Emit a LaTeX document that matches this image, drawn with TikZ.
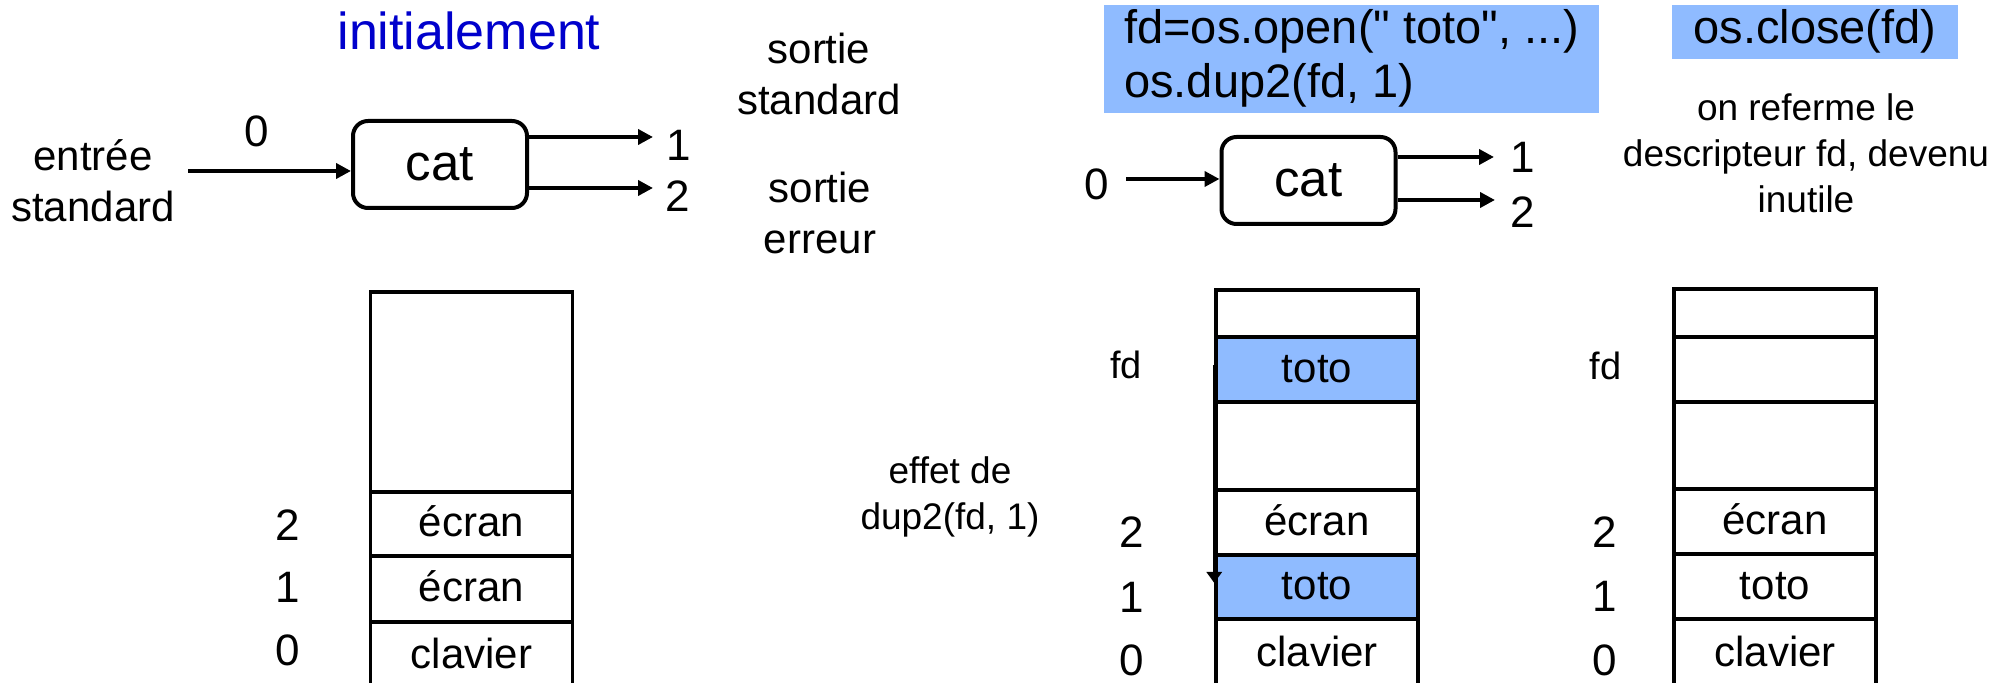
\documentclass[tikz,border=0pt]{standalone}
\usepackage{fontspec}
\setmainfont{Liberation Sans}[Ligatures=TeXOff]
\usetikzlibrary{arrows.meta,calc}
\definecolor{codeblue}{RGB}{143,187,255}
\definecolor{titleblue}{RGB}{0,0,204}
\begin{document}
\begin{tikzpicture}[x=0.5pt,y=-0.5pt,
  lbl/.style={font=\fontsize{21}{25.5}\selectfont, align=center, inner sep=0pt},
  num/.style={font=\fontsize{22}{26}\selectfont, inner sep=0pt},
  fdl/.style={font=\fontsize{19}{23}\selectfont, inner sep=0pt},
  small/.style={font=\fontsize{18.5}{23}\selectfont, align=center, inner sep=0pt},
  proc/.style={draw, line width=2pt, rounded corners=7.5pt, minimum width=87pt, minimum height=43.5pt, font=\fontsize{25.5}{30}\selectfont, inner sep=0pt},
  arr/.style={line width=2pt, -{Triangle[length=7.5pt,width=7.5pt]}},
  cell/.style={draw, line width=1.75pt, minimum width=101pt, inner sep=0pt, font=\fontsize{21}{25}\selectfont, text height=17.2pt, text depth=4.2pt},
  hl/.style={fill=codeblue},
  code/.style={fill=codeblue, font=\fontsize{23.5}{27}\selectfont, inner xsep=9.5pt, inner ysep=2.5pt, align=left}
]
\useasboundingbox (0,0) rectangle (2010,683);

% ---------- code boxes ----------
\node[code, minimum width=247.5pt, anchor=south west] (c1) at (1104,113) {fd=os.open(" toto", ...)\\os.dup2(fd, 1)};
\node[code, anchor=south, minimum width=143pt] (c2) at (1815,59) {os.close(fd)};

% ---------- left part ----------
\node[font=\fontsize{26}{30}\selectfont, text=titleblue, anchor=base, inner sep=0pt] (title) at (469,50) {initialement};
\node[lbl, anchor=base] (entree) at (93,222) {entrée\\standard};
\node[lbl, anchor=base] (sstd) at (819,115) {sortie\\standard};
\node[lbl, anchor=base] (serr) at (820,254) {sortie\\erreur};

\node[proc] (catL) at (440,164.5) {cat};
\node[num] (zL) at (257,131) {0};
\coordinate (inL) at (188,171);
\draw[arr] (inL) -- (inL -| catL.west);
\coordinate (oL1) at (653,137);
\coordinate (oL2) at (653,188);
\draw[arr] (oL1 -| catL.east) -- (oL1);
\draw[arr] (oL2 -| catL.east) -- (oL2);
\node[num] (n1L) at (679,145) {1};
\node[num] (n2L) at (678,196) {2};

% left table
\node[cell, minimum height=100pt] (L3) at (471.5,392) {};
\node[cell, minimum height=32pt] (L2) at (471.5,524) {écran};
\node[cell, minimum height=33pt] (L1) at (471.5,589) {écran};
\node[cell, minimum height=34pt] (L0) at (471.5,656) {clavier};
\node[num] (rL2) at (288,525) {2};
\node[num] (rL1) at (288,587) {1};
\node[num] (rL0) at (288,650) {0};

% ---------- middle part ----------
\node[proc] (catM) at (1308.5,180.5) {cat};
\node[num] (zM) at (1097,184) {0};
\coordinate (inM) at (1126,179);
\draw[arr] (inM) -- (inM -| catM.west);
\coordinate (oM1) at (1494,157);
\coordinate (oM2) at (1495,200);
\draw[arr] (oM1 -| catM.east) -- (oM1);
\draw[arr] (oM2 -| catM.east) -- (oM2);
\node[num] (n1M) at (1523,157) {1};
\node[num] (n2M) at (1523,212) {2};

\node[small, anchor=base] (effet) at (950,530) {effet de\\dup2(fd, 1)};

% middle table
\node[cell, minimum height=23.5pt] (M5) at (1317,313.5) {};
\node[cell, hl, minimum height=32.5pt] (Mfd) at (1317,369.5) {toto};
\node[cell, minimum height=44pt] (M3) at (1317,446) {};
\node[cell, minimum height=32.5pt] (M2) at (1317,522.5) {écran};
\node[cell, hl, minimum height=32pt] (M1) at (1317,587) {toto};
\node[cell, minimum height=34.5pt] (M0) at (1317,653.5) {clavier};
\node[fdl] (fdM) at (1126,365) {fd};
\node[num] (rM2) at (1132,532) {2};
\node[num] (rM1) at (1132,597) {1};
\node[num] (rM0) at (1132,660) {0};
\draw[line width=1.5pt, -{Triangle[length=5.5pt,width=7.5pt]}] ([yshift=2pt]Mfd.west) -- ([yshift=2pt]M1.west);

% ---------- right part ----------
\node[small, anchor=base] (refer) at (1806,213) {on referme le\\descripteur fd, devenu\\inutile};

\node[cell, minimum height=24pt] (R5) at (1775,313) {};
\node[cell, minimum height=32.5pt] (Rfd) at (1775,369.5) {};
\node[cell, minimum height=43.5pt] (R3) at (1775,445.5) {};
\node[cell, minimum height=32.5pt] (R2) at (1775,521.5) {écran};
\node[cell, minimum height=32.5pt] (R1) at (1775,586.5) {toto};
\node[cell, minimum height=34.5pt] (R0) at (1775,653.5) {clavier};
\node[fdl] (fdR) at (1605.5,366) {fd};
\node[num] (rR2) at (1605,532) {2};
\node[num] (rR1) at (1605,596) {1};
\node[num] (rR0) at (1605,660) {0};
\end{tikzpicture}
\end{document}
